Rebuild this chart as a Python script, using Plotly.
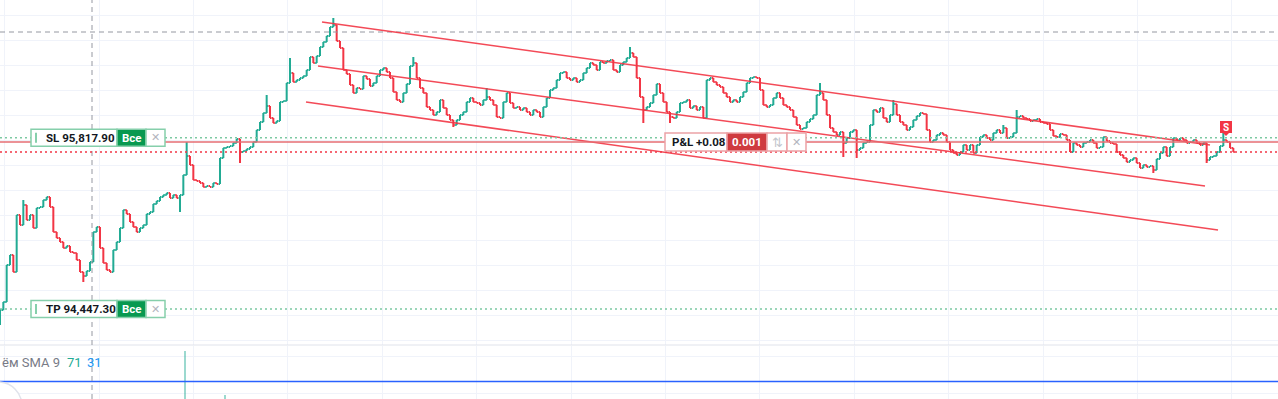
import plotly.graph_objects as go

# ---------------- data ----------------
OPEN0 = 94360
CLOSES = [
    94440, 94504, 94800, 94880, 94744, 95200, 95120, 95280, 95160, 95200,
    95096, 95256, 95264, 95320, 95344, 95264, 95064, 95016, 94984, 94936,
    94952, 94904, 94896, 94840, 94744, 94712, 94752, 94824, 95064, 95104,
    94936, 94816, 94760, 94744, 94920, 94984, 95096, 95240, 95208, 95144,
    95104, 95064, 95096, 95120, 95208, 95224, 95288, 95312, 95344, 95360,
    95376, 95336, 95360, 95336, 95360, 95520, 95672, 95600, 95480, 95472,
    95456, 95424, 95432, 95424, 95456, 95448, 95656, 95736, 95744, 95752,
    95776, 95808, 95704, 95712, 95728, 95744, 95784, 95880, 95944, 96016,
    96072, 95976, 95936, 95952, 96104, 96112, 96256, 96336, 96264, 96280,
    96296, 96312, 96360, 96464, 96416, 96472, 96544, 96584, 96632, 96704,
    96720, 96592, 96536, 96360, 96328, 96240, 96176, 96216, 96208, 96312,
    96288, 96232, 96256, 96312, 96360, 96376, 96344, 96296, 96184, 96120,
    96104, 96176, 96248, 96392, 96416, 96296, 96216, 96176, 96064, 96040,
    96000, 96024, 96120, 96056, 96000, 95960, 95920, 95960, 96000, 96024,
    96104, 96136, 96104, 96096, 96080, 96120, 96144, 96120, 96080, 95984,
    95976, 96104, 96176, 96096, 96056, 96064, 96040, 96056, 96024, 96000,
    96040, 96024, 95984, 96064, 96136, 96200, 96216, 96280, 96336, 96344,
    96296, 96280, 96296, 96264, 96280, 96336, 96376, 96416, 96400, 96360,
    96424, 96416, 96432, 96440, 96360, 96344, 96400, 96424, 96456, 96496,
    96464, 96296, 96144, 96040, 96064, 96096, 96160, 96248, 96176, 96104,
    96024, 95984, 95976, 96024, 96096, 96104, 96120, 96056, 96072, 96040,
    96064, 95976, 96280, 96296, 96264, 96240, 96224, 96176, 96144, 96104,
    96120, 96104, 96144, 96184, 96256, 96296, 96304, 96296, 96200, 96080,
    96064, 96080, 96136, 96176, 96136, 96080, 96064, 96040, 95984, 95920,
    95888, 95896, 95944, 95968, 96000, 96160, 96176, 96120, 96000, 95896,
    95864, 95840, 95864, 95776, 95816, 95864, 95880, 95720, 95736, 95776,
    95784, 95920, 96040, 96024, 96056, 95976, 95944, 96000, 96088, 96000,
    95944, 95920, 95880, 95904, 95960, 95992, 96016, 96008, 95880, 95784,
    95800, 95840, 95856, 95840, 95784, 95720, 95696, 95680, 95704, 95760,
    95720, 95760, 95696, 95760, 95824, 95840, 95816, 95800, 95856, 95880,
    95856, 95896, 95816, 95824, 95856, 95984, 95992, 95976, 95968, 95952,
    95960, 95968, 95944, 95936, 95928, 95880, 95832, 95824, 95848, 95840,
    95800, 95704, 95776, 95760, 95744, 95776, 95784, 95800, 95776, 95736,
    95744, 95824, 95792, 95776, 95768, 95704, 95680, 95656, 95624, 95640,
    95656, 95616, 95576, 95600, 95584, 95592, 95560, 95648, 95696, 95744,
    95672, 95744, 95816, 95800, 95816, 95800, 95776, 95784, 95800, 95776,
    95760, 95776, 95640, 95664, 95672, 95704, 95752, 95800, 95784, 95736,
    95704,
]
# notable wick extremes (bar index -> price)
HIGH_WICKS = {7: 95320, 56: 95784, 80: 96160, 87: 96456, 100: 96776, 124: 96464,
              146: 96216, 189: 96544, 246: 96256, 268: 96120, 301: 95920,
              305: 96040, 367: 95856}
LOW_WICKS = {0: 94320, 25: 94664, 54: 95224, 72: 95616, 136: 95904, 193: 95936,
             201: 95936, 253: 95664, 257: 95656, 346: 95536, 362: 95616}

SL_PRICE = 95817.90
TP_PRICE = 94447.30
ENTRY_PRICE = 95784
CROSS_BAR = 27.6
CROSS_PRICE = 96664
SELL_BAR = 367.8

# trend channel drawings: (bar, price) endpoints
CHANNEL = [
    ((96.6, 96744), (363.0, 95760)),
    ((95.4, 96392), (361.5, 95432)),
    ((91.8, 96104), (365.4, 95080)),
]

# visible volume bars and volume SMA level
VOL_BARS = [55.5, 67.5]
VOL_VALUES = [91, 7]
VOL_SMA = 33

# ---------------- derived OHLC ----------------
n = len(CLOSES)
idx = list(range(n))
opens = [OPEN0] + CLOSES[:-1]
highs = [max(o, c, HIGH_WICKS.get(i, c)) for i, (o, c) in enumerate(zip(opens, CLOSES))]
lows = [min(o, c, LOW_WICKS.get(i, c)) for i, (o, c) in enumerate(zip(opens, CLOSES))]
LAST_PRICE = CLOSES[-1]

# ---------------- layout constants ----------------
W, H = 1278, 399
MAIN_H = 345
Y_MIN, Y_MAX = 94160, 96920
X_MIN, X_MAX = 0, 383.4
GREEN = "#22ab94"
RED = "#f23645"
GRID = "#f0f3fa"


def px(x):
    return x / W


def py(y):
    return 1 - y / H


def price_py(p):
    return (Y_MAX - p) / (Y_MAX - Y_MIN) * MAIN_H


fig = go.Figure()
fig.add_trace(go.Ohlc(
    x=idx, open=opens, high=highs, low=lows, close=CLOSES,
    increasing=dict(line=dict(color=GREEN, width=2)),
    decreasing=dict(line=dict(color=RED, width=2)),
    tickwidth=0.45, hoverinfo="skip", showlegend=False,
))
fig.add_trace(go.Bar(
    x=VOL_BARS, y=VOL_VALUES, yaxis="y2", width=0.35,
    marker=dict(color="rgba(34,171,148,0.45)", line=dict(width=0)),
    hoverinfo="skip", showlegend=False,
))
fig.add_trace(go.Scatter(
    x=[X_MIN, X_MAX], y=[VOL_SMA, VOL_SMA], yaxis="y2", mode="lines",
    line=dict(color="#2962ff", width=1.5), hoverinfo="skip", showlegend=False,
))

shapes = []
# pane separator
shapes.append(dict(type="line", xref="paper", yref="paper", x0=0, x1=1,
                   y0=py(MAIN_H), y1=py(MAIN_H), line=dict(color="#e0e3eb", width=1)))
# crosshair
shapes.append(dict(type="line", xref="x", yref="paper", x0=CROSS_BAR, x1=CROSS_BAR,
                   y0=0, y1=1, line=dict(color="#9598a1", width=1, dash="5px,4px")))
shapes.append(dict(type="line", xref="paper", yref="y", x0=0, x1=1,
                   y0=CROSS_PRICE, y1=CROSS_PRICE,
                   line=dict(color="#9598a1", width=1, dash="5px,4px")))
# channel lines
for (b0, p0), (b1, p1) in CHANNEL:
    shapes.append(dict(type="line", xref="x", yref="y", x0=b0, y0=p0, x1=b1, y1=p1,
                       line=dict(color="rgba(242,54,69,0.9)", width=1.5)))
# order lines
for p in (SL_PRICE, TP_PRICE):
    shapes.append(dict(type="line", xref="paper", yref="y", x0=0, x1=1, y0=p, y1=p,
                       line=dict(color="#7cc9a2", width=1.5, dash="2px,3px")))
shapes.append(dict(type="line", xref="paper", yref="y", x0=0, x1=1,
                   y0=ENTRY_PRICE, y1=ENTRY_PRICE,
                   line=dict(color="rgba(230,110,115,0.75)", width=2)))
shapes.append(dict(type="line", xref="paper", yref="y", x0=0, x1=1,
                   y0=LAST_PRICE, y1=LAST_PRICE,
                   line=dict(color=RED, width=1.5, dash="2px,3px")))

annotations = []


def rect(x0, x1, y0, y1, fill, border=None, bw=0):
    d = dict(type="rect", xref="paper", yref="paper", x0=px(x0), x1=px(x1),
             y0=py(y1), y1=py(y0), fillcolor=fill, line=dict(width=0))
    if border:
        d["line"] = dict(color=border, width=bw)
    shapes.append(d)


def text(x, y, s, color, size=11.5, anchor="left", bold=True, family="Roboto"):
    annotations.append(dict(
        xref="paper", yref="paper", x=px(x), y=py(y), text=f"<b>{s}</b>" if bold else s,
        showarrow=False, xanchor=anchor, yanchor="middle",
        font=dict(color=color, size=size, family=family)))


def order_label(price, label):
    yc = price_py(price)
    y0, y1 = yc - 8.5, yc + 8.5
    border = "#86cfab"
    rect(31, 117, y0, y1, "white", border, 1.5)
    rect(117, 146, y0, y1, "#089950", border, 1.5)
    rect(146, 165, y0, y1, "white", border, 1.5)
    rect(35, 37, yc - 5, yc + 5, border)
    text(43.5, yc, label, "#131722", size=11.5)
    text(131.5, yc, "Все", "white", anchor="center")
    text(155.5, yc, "✕", "#b2b5be", size=11, anchor="center", bold=False, family="DejaVu Sans")


order_label(SL_PRICE, f"SL {SL_PRICE:,.2f}")
order_label(TP_PRICE, f"TP {TP_PRICE:,.2f}")

# P&L label on the position line
yc = price_py(ENTRY_PRICE)
y0, y1 = yc - 9, yc + 9
pb = "#eba2a6"
rect(665, 727, y0, y1, "white", pb, 1.5)
rect(727, 767, y0, y1, "#cf3a3f", pb, 1.5)
rect(767, 787, y0, y1, "white", pb, 1.5)
rect(787, 806, y0, y1, "white", pb, 1.5)
pnl = (ENTRY_PRICE - LAST_PRICE) * 0.001
text(670, yc, f"P&amp;L +{pnl:.2f}", "#131722", size=11.5)
text(747, yc, "0.001", "white", size=11.5, anchor="center")
text(777, yc, "⇅", "#c3c6cd", size=13, anchor="center", bold=False, family="DejaVu Sans")
text(796.5, yc, "✕", "#b2b5be", size=11, anchor="center", bold=False, family="DejaVu Sans")

# sell marker "S"
sx = (SELL_BAR - X_MIN) / (X_MAX - X_MIN) * W
rect(sx - 6, sx + 6, 121, 133, RED)
shapes.append(dict(type="path", xref="paper", yref="paper",
                   path=f"M {px(sx-3)} {py(133)} L {px(sx+3)} {py(133)} L {px(sx)} {py(136)} Z",
                   fillcolor=RED, line=dict(width=0)))
text(sx, 127.5, "S", "white", size=10, anchor="center")

# volume legend
text(0, 362, "ём SMA 9", "#787b86", size=13, bold=False)
text(65, 362, "71", GREEN, size=13, bold=False)
text(85, 362, "31", "#2196f3", size=13, bold=False)

# partial logo circle bottom-left
shapes.append(dict(type="circle", xref="paper", yref="paper",
                   x0=px(-26), x1=px(22), y0=py(430), y1=py(382),
                   line=dict(color="#e0e3eb", width=1.5), fillcolor="white"))

fig.update_layout(
    width=W, height=H, margin=dict(l=0, r=0, t=0, b=0),
    paper_bgcolor="white", plot_bgcolor="white",
    xaxis=dict(range=[X_MIN, X_MAX], showticklabels=False, showgrid=True,
               gridcolor=GRID, gridwidth=1, tick0=29.7, dtick=28.32, zeroline=False,
               rangeslider=dict(visible=False), fixedrange=True, showline=False, ticks=""),
    yaxis=dict(domain=[1 - MAIN_H / H, 1], range=[Y_MIN, Y_MAX], showticklabels=False,
               showgrid=True, gridcolor=GRID, tick0=0, dtick=200, zeroline=False, ticks=""),
    yaxis2=dict(domain=[0, 1 - MAIN_H / H - 0.002], range=[0, 100], showticklabels=False,
                showgrid=True, gridcolor=GRID, tickvals=[11, 79.6], zeroline=False, ticks=""),
    shapes=shapes, annotations=annotations, hovermode=False, showlegend=False,
    bargap=0,
)

fig.write_html("out.html", config={"displayModeBar": False, "staticPlot": True})
